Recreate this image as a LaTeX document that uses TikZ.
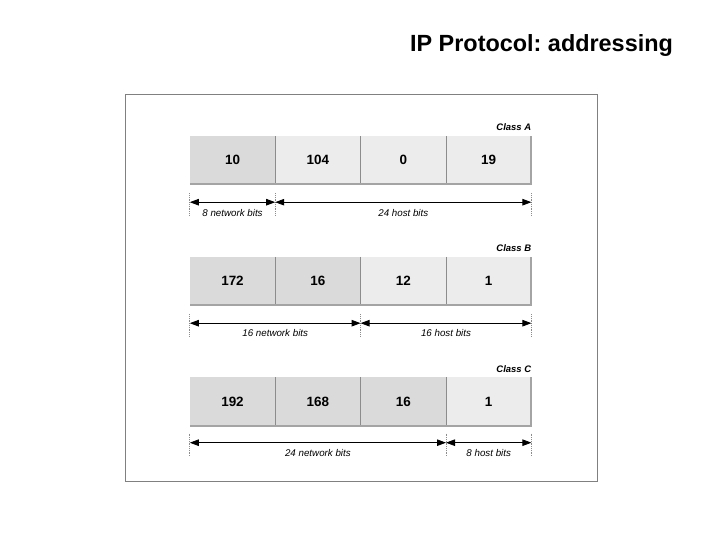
\documentclass[tikz,border=0pt]{standalone}
\usepackage{fontspec}
\setmainfont{Liberation Sans}
\frenchspacing
\usetikzlibrary{positioning,calc,arrows.meta}
\definecolor{netgray}{HTML}{DADADA}
\definecolor{hostgray}{HTML}{ECECEC}
\definecolor{edgegray}{HTML}{A4A4A4}
\definecolor{divgray}{HTML}{8C8C8C}
\tikzset{
    netcell/.style={fill=netgray, minimum width=85bp, minimum height=48bp, inner sep=0pt,
                    font=\bfseries\fontsize{13.5}{14}\selectfont},
    hostcell/.style={netcell, fill=hostgray},
    divider/.style={divgray, line width=0.9bp},
    shade/.style={edgegray, line width=2bp},
    classlbl/.style={font=\bfseries\itshape\fontsize{9.5}{10}\selectfont, inner sep=0pt},
    bitlbl/.style={font=\itshape\fontsize{9.8}{10}\selectfont, inner sep=1pt},
    bound/.style={densely dotted, divgray, line width=0.8bp},
    dimline/.style={{Triangle[length=9bp,width=6.5bp]}-{Triangle[length=9bp,width=6.5bp]}, line width=0.8bp},
    frame/.style={draw=gray, line width=0.8bp},
    title/.style={font=\bfseries\fontsize{23.5}{24}\selectfont},
}
\begin{document}
\begin{tikzpicture}[x=1bp,y=1bp]
    \useasboundingbox (0,0) rectangle (720,540);
    % Title and frame
    \node[title] (ttl) at (541.5,494) {IP Protocol: addressing};
    \draw[frame] (125,59) rectangle (597,446);

    % Class A
    \node[netcell] (A1) at (232.5,380) {10};
    \node[hostcell, right=0pt of A1] (A2) {104};
    \node[hostcell, right=0pt of A2] (A3) {0};
    \node[hostcell, right=0pt of A3] (A4) {19};
    \foreach \c in {1,2,3} {
        \draw[divider] (A\c.north east) -- (A\c.south east);
    }
    \draw[shade] (A1.south west) -- (A4.south east) -- (A4.north east);
    \node[classlbl, anchor=south east] (clsA) at ($(A4.north east)+(0,5)$) {Class A};

    \coordinate (Aa) at ($(A1.south west)+(0,-18)$);
    \coordinate (Ab) at ($(A1.south east)+(0,-18)$);
    \coordinate (Ac) at ($(A4.south east)+(0,-18)$);
    \foreach \p in {Aa,Ab,Ac} {
        \draw[bound] ($(\p)+(0,9)$) -- ++(0,-22);
    }
    \draw[dimline] (Aa) -- (Ab) node[midway, below=6bp, bitlbl] (netA) {8 network bits};
    \draw[dimline] (Ab) -- (Ac) node[midway, below=6bp, bitlbl] (hostA) {24 host bits};

    % Class B
    \node[netcell] (B1) at (232.5,259) {172};
    \node[netcell, right=0pt of B1] (B2) {16};
    \node[hostcell, right=0pt of B2] (B3) {12};
    \node[hostcell, right=0pt of B3] (B4) {1};
    \foreach \c in {1,2,3} {
        \draw[divider] (B\c.north east) -- (B\c.south east);
    }
    \draw[shade] (B1.south west) -- (B4.south east) -- (B4.north east);
    \node[classlbl, anchor=south east] (clsB) at ($(B4.north east)+(0,5)$) {Class B};

    \coordinate (Ba) at ($(B1.south west)+(0,-18)$);
    \coordinate (Bb) at ($(B2.south east)+(0,-18)$);
    \coordinate (Bc) at ($(B4.south east)+(0,-18)$);
    \foreach \p in {Ba,Bb,Bc} {
        \draw[bound] ($(\p)+(0,9)$) -- ++(0,-22);
    }
    \draw[dimline] (Ba) -- (Bb) node[midway, below=5bp, bitlbl] (netB) {16 network bits};
    \draw[dimline] (Bb) -- (Bc) node[midway, below=5bp, bitlbl] (hostB) {16 host bits};

    % Class C
    \node[netcell] (C1) at (232.5,138.5) {192};
    \node[netcell, right=0pt of C1] (C2) {168};
    \node[netcell, right=0pt of C2] (C3) {16};
    \node[hostcell, right=0pt of C3] (C4) {1};
    \foreach \c in {1,2,3} {
        \draw[divider] (C\c.north east) -- (C\c.south east);
    }
    \draw[shade] (C1.south west) -- (C4.south east) -- (C4.north east);
    \node[classlbl, anchor=south east] (clsC) at ($(C4.north east)+(0,5)$) {Class C};

    \coordinate (Ca) at ($(C1.south west)+(0,-17)$);
    \coordinate (Cb) at ($(C3.south east)+(0,-17)$);
    \coordinate (Cc) at ($(C4.south east)+(0,-17)$);
    \foreach \p in {Ca,Cb,Cc} {
        \draw[bound] ($(\p)+(0,9)$) -- ++(0,-22);
    }
    \draw[dimline] (Ca) -- (Cb) node[midway, below=5bp, bitlbl] (netC) {24 network bits};
    \draw[dimline] (Cb) -- (Cc) node[midway, below=5bp, bitlbl] (hostC) {8 host bits};
\end{tikzpicture}
\end{document}
